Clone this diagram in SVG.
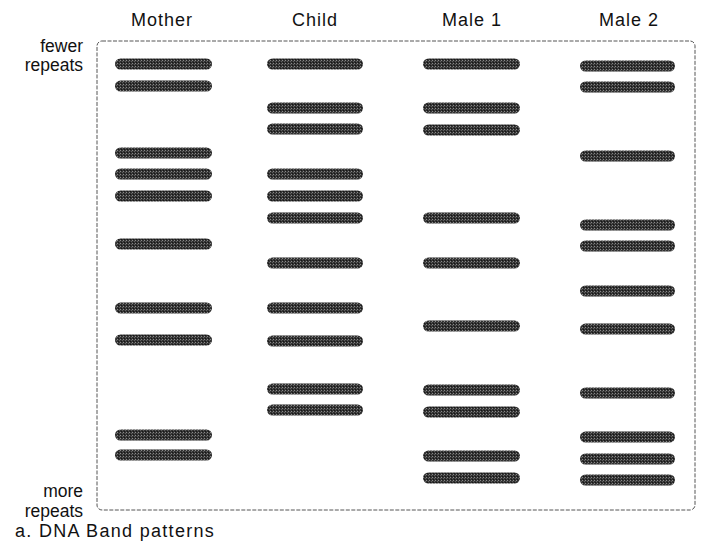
<svg xmlns="http://www.w3.org/2000/svg" width="704" height="550" viewBox="0 0 704 550">
<defs>
<pattern id="grain" width="3" height="3" patternUnits="userSpaceOnUse">
<rect width="3" height="3" fill="#303030"/>
<rect x="0" y="0" width="1" height="1" fill="#8a8a8a"/>
<rect x="2" y="1" width="1" height="1" fill="#5e5e5e"/>
<rect x="1" y="2" width="1" height="1" fill="#151515"/>
</pattern>
<filter id="soft" x="-5%" y="-50%" width="110%" height="200%">
<feGaussianBlur stdDeviation="0.5"/>
</filter>
</defs>
<style>
.hdr{font-family:"Liberation Sans",Arial,sans-serif;font-size:18px;letter-spacing:1px;fill:#111;text-anchor:middle}
.side{font-family:"Liberation Sans",Arial,sans-serif;font-size:17.5px;fill:#111;text-anchor:end}
.cap{font-family:"Liberation Sans",Arial,sans-serif;font-size:18px;letter-spacing:1.3px;fill:#111}
.band{fill:url(#grain);filter:url(#soft)}
.frame{fill:none;stroke:#555;stroke-width:1;stroke-dasharray:4 1.5}
</style>
<rect width="704" height="550" fill="#fff"/>
<g id="labels">
<text class="hdr" x="162" y="26">Mother</text>
<text class="hdr" x="315" y="26">Child</text>
<text class="hdr" x="472" y="26">Male 1</text>
<text class="hdr" x="629" y="26">Male 2</text>
<text class="side" x="83" y="52">fewer</text>
<text class="side" x="83" y="71">repeats</text>
<text class="side" x="83" y="497">more</text>
<text class="side" x="83" y="517">repeats</text>
<text class="cap" x="15" y="537">a. DNA Band patterns</text>
</g>
<rect id="gel" class="frame" x="97" y="41" width="598" height="469" rx="5"/>
<g id="mother">
<rect class="band" x="115" y="58.5" width="97" height="11" rx="5.5"/>
<rect class="band" x="115" y="80.5" width="97" height="11" rx="5.5"/>
<rect class="band" x="115" y="147.5" width="97" height="11" rx="5.5"/>
<rect class="band" x="115" y="168.5" width="97" height="11" rx="5.5"/>
<rect class="band" x="115" y="190.5" width="97" height="11" rx="5.5"/>
<rect class="band" x="115" y="238.5" width="97" height="11" rx="5.5"/>
<rect class="band" x="115" y="302.5" width="97" height="11" rx="5.5"/>
<rect class="band" x="115" y="334.5" width="97" height="11" rx="5.5"/>
<rect class="band" x="115" y="429.5" width="97" height="11" rx="5.5"/>
<rect class="band" x="115" y="449.5" width="97" height="11" rx="5.5"/>
</g>
<g id="child">
<rect class="band" x="267" y="58.5" width="96" height="11" rx="5.5"/>
<rect class="band" x="267" y="102.5" width="96" height="11" rx="5.5"/>
<rect class="band" x="267" y="123.5" width="96" height="11" rx="5.5"/>
<rect class="band" x="267" y="168.5" width="96" height="11" rx="5.5"/>
<rect class="band" x="267" y="190.5" width="96" height="11" rx="5.5"/>
<rect class="band" x="267" y="212.5" width="96" height="11" rx="5.5"/>
<rect class="band" x="267" y="257.5" width="96" height="11" rx="5.5"/>
<rect class="band" x="267" y="302.5" width="96" height="11" rx="5.5"/>
<rect class="band" x="267" y="335.5" width="96" height="11" rx="5.5"/>
<rect class="band" x="267" y="383.5" width="96" height="11" rx="5.5"/>
<rect class="band" x="267" y="404.5" width="96" height="11" rx="5.5"/>
</g>
<g id="male1">
<rect class="band" x="423" y="58.5" width="97" height="11" rx="5.5"/>
<rect class="band" x="423" y="102.5" width="97" height="11" rx="5.5"/>
<rect class="band" x="423" y="124.5" width="97" height="11" rx="5.5"/>
<rect class="band" x="423" y="212.5" width="97" height="11" rx="5.5"/>
<rect class="band" x="423" y="257.5" width="97" height="11" rx="5.5"/>
<rect class="band" x="423" y="320.5" width="97" height="11" rx="5.5"/>
<rect class="band" x="423" y="384.5" width="97" height="11" rx="5.5"/>
<rect class="band" x="423" y="406.5" width="97" height="11" rx="5.5"/>
<rect class="band" x="423" y="450.5" width="97" height="11" rx="5.5"/>
<rect class="band" x="423" y="472.5" width="97" height="11" rx="5.5"/>
</g>
<g id="male2">
<rect class="band" x="580" y="60.5" width="95" height="11" rx="5.5"/>
<rect class="band" x="580" y="81.5" width="95" height="11" rx="5.5"/>
<rect class="band" x="580" y="150.5" width="95" height="11" rx="5.5"/>
<rect class="band" x="580" y="219.5" width="95" height="11" rx="5.5"/>
<rect class="band" x="580" y="240.5" width="95" height="11" rx="5.5"/>
<rect class="band" x="580" y="285.5" width="95" height="11" rx="5.5"/>
<rect class="band" x="580" y="323.5" width="95" height="11" rx="5.5"/>
<rect class="band" x="580" y="387.5" width="95" height="11" rx="5.5"/>
<rect class="band" x="580" y="431.5" width="95" height="11" rx="5.5"/>
<rect class="band" x="580" y="453.5" width="95" height="11" rx="5.5"/>
<rect class="band" x="580" y="474.5" width="95" height="11" rx="5.5"/>
</g>
</svg>
